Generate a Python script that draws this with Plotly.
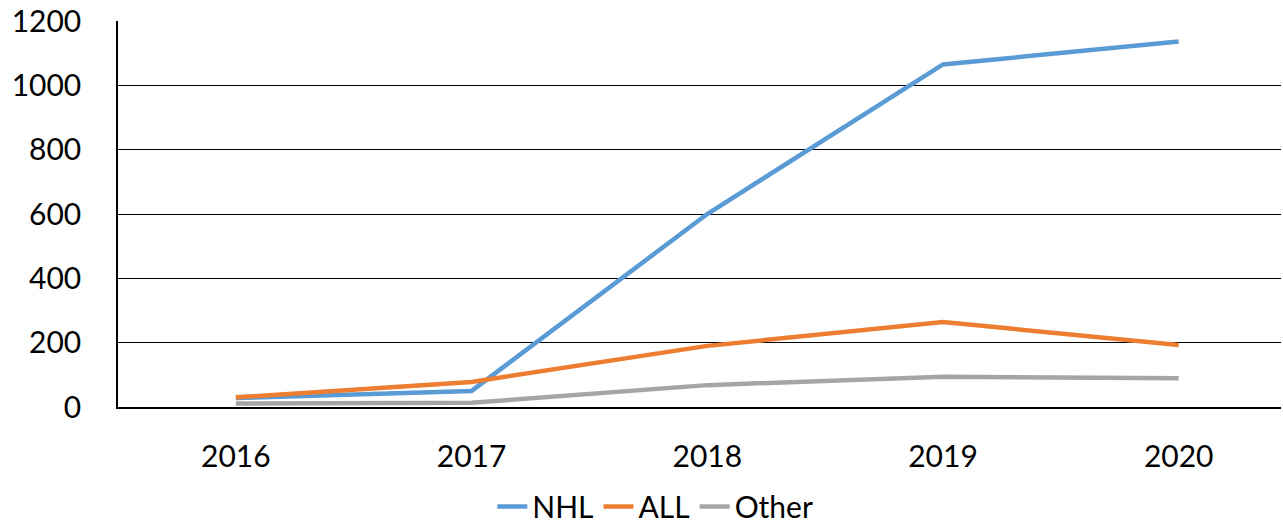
import plotly.graph_objects as go

years = ["2016", "2017", "2018", "2019", "2020"]
nhl = [28, 50, 600, 1065, 1136]
all_vals = [30, 78, 190, 264, 193]
other = [11, 13, 68, 94, 89]

series = [("NHL", nhl, "#5B9BD5"), ("ALL", all_vals, "#ED7D31"), ("Other", other, "#A5A5A5")]

fig = go.Figure()
for name, vals, color in series:
    fig.add_trace(go.Scatter(x=years, y=vals, name=name, mode="lines",
                             line=dict(color=color, width=4.5)))

font = "Lato, 'Open Sans', sans-serif"
fig.update_layout(
    width=1283, height=525,
    margin=dict(l=118, r=2, t=21, b=118, autoexpand=False),
    paper_bgcolor="white", plot_bgcolor="white",
    font=dict(family=font, size=30, color="black"),
    xaxis=dict(type="category", range=[-0.5, 4.434], showgrid=False,
               showline=True, linecolor="black", linewidth=1.5,
               ticks="", ticklabelstandoff=22, tickfont=dict(size=30),
               automargin=False),
    yaxis=dict(range=[0, 1200], dtick=200, showgrid=True, gridcolor="black",
               gridwidth=1, zeroline=False, showline=True, linecolor="black",
               linewidth=1.5, ticks="", ticklabelstandoff=29, tickfont=dict(size=30),
               automargin=False),
    legend=dict(orientation="h", x=0.462, xanchor="center", y=-0.258,
                yanchor="middle", font=dict(size=30), itemwidth=30,
                tracegroupgap=0),
    showlegend=True,
)
fig.write_html("out.html")
